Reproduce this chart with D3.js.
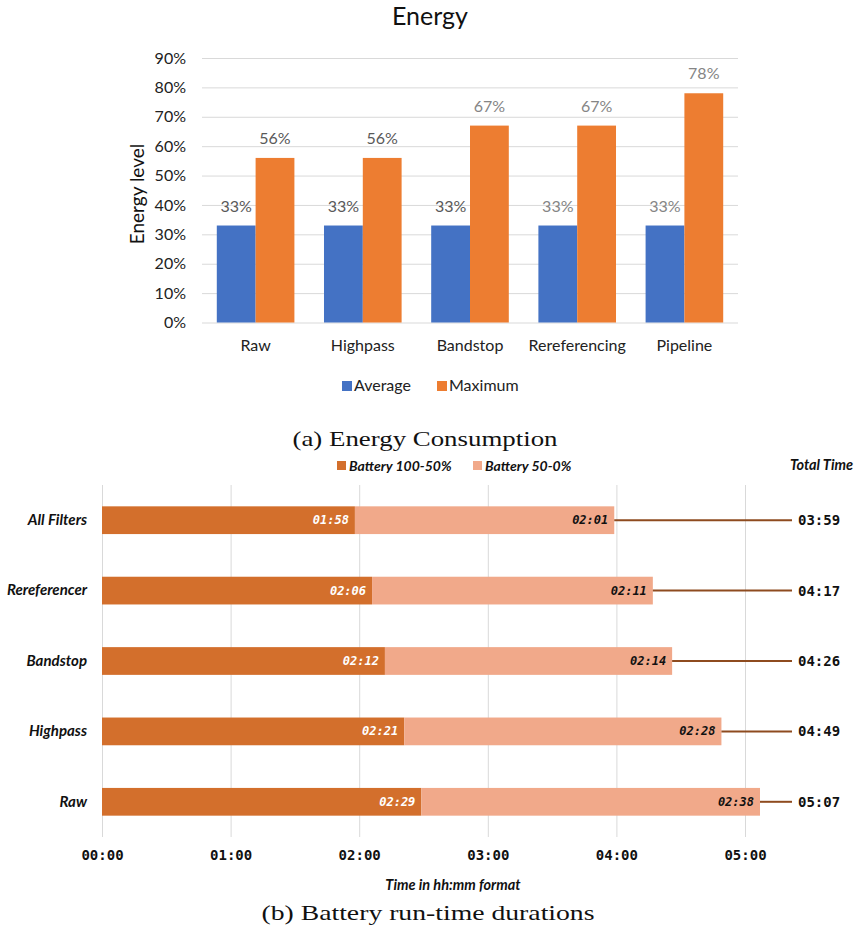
<!DOCTYPE html>
<html>
<head>
<meta charset="utf-8">
<script src="https://cdn.jsdelivr.net/npm/d3@7"></script>
<style>
  html, body { margin: 0; padding: 0; background: #fff; }
  svg { display: block; }
</style>
</head>
<body>
<svg id="chart" width="856" height="933"></svg>
<script>
// ---- Data: (a) Energy ----
const energyCategories = ["Raw", "Highpass", "Bandstop", "Rereferencing", "Pipeline"];
const energyAverage = [33, 33, 33, 33, 33];
const energyMaximum = [56, 56, 67, 67, 78];
const energySeries = ["Average", "Maximum"];
const energyTicks = [0, 10, 20, 30, 40, 50, 60, 70, 80, 90];

// ---- Data: (b) Battery ----
const batteryCategories = ["All Filters", "Rereferencer", "Bandstop", "Highpass", "Raw"];
const batteryFirstHalf = ["01:58", "02:06", "02:12", "02:21", "02:29"];
const batterySecondHalf = ["02:01", "02:11", "02:14", "02:28", "02:38"];
const batterySeries = ["Battery 100-50%", "Battery 50-0%"];
const batteryTicks = ["00:00", "01:00", "02:00", "03:00", "04:00", "05:00"];

const toMin = s => { const [h, m] = s.split(":").map(Number); return h * 60 + m; };
const fmt = m => String(Math.floor(m / 60)).padStart(2, "0") + ":" + String(m % 60).padStart(2, "0");

const svg = d3.select("#chart");
const sans = "Lato, 'Open Sans', sans-serif";
const mono = "'DejaVu Sans Mono', 'Liberation Mono', monospace";
const serif = "'Liberation Serif', 'DejaVu Serif', serif";

// ================= (a) Energy chart =================
const cBlue = "#4472C4", cOrange = "#ED7D31";
const x0 = d3.scaleBand().domain(energyCategories).range([202, 738]).paddingInner(0.276).paddingOuter(0.138);
const x1 = d3.scaleBand().domain(energySeries).range([0, x0.bandwidth()]);
const y = d3.scaleLinear().domain([0, 90]).range([322.5, 58]);

const gA = svg.append("g");
// title
gA.append("text").attr("x", 430).attr("y", 25).attr("text-anchor", "middle")
  .style("font-family", sans).style("font-size", "25px").style("fill", "#111").text("Energy");

// gridlines
gA.append("g").selectAll("line").data(energyTicks).join("line")
  .attr("x1", 202).attr("x2", 738)
  .attr("y1", d => y(d) + 0.5).attr("y2", d => y(d) + 0.5)
  .attr("stroke", "#d9d9d9").attr("stroke-width", 1);

// y axis labels
const yAxis = d3.axisLeft(y).tickValues(energyTicks).tickFormat(d => d + "%").tickSize(0).tickPadding(0);
const yg = gA.append("g").attr("transform", "translate(186,0)").call(yAxis);
yg.select(".domain").remove();
yg.selectAll("text").style("font-family", sans).style("font-size", "16px").style("fill", "#222");

// y title
gA.append("text").attr("transform", "translate(144,194) rotate(-90)").attr("text-anchor", "middle")
  .style("font-family", sans).style("font-size", "19px").style("fill", "#111").text("Energy level");

// bars
const energyRows = energyCategories.map((c, i) => ({ c, vals: [energyAverage[i], energyMaximum[i]], i }));
const groups = gA.append("g").selectAll("g").data(energyRows).join("g")
  .attr("transform", d => `translate(${x0(d.c)},0)`);
groups.selectAll("rect").data(d => d.vals.map((v, k) => ({ v, s: energySeries[k] })))
  .join("rect")
  .attr("x", d => x1(d.s)).attr("width", x1.bandwidth())
  .attr("y", d => y(d.v)).attr("height", d => y(0) - y(d.v))
  .attr("fill", d => d.s === "Average" ? cBlue : cOrange);
groups.selectAll("text").data(d => d.vals.map((v, k) => ({ v, s: energySeries[k], i: d.i })))
  .join("text")
  .attr("x", d => x1(d.s) + x1.bandwidth() / 2).attr("y", d => y(d.v) - 14)
  .attr("text-anchor", "middle")
  .style("font-family", sans).style("font-size", "16px")
  .style("fill", d => (d.s === "Average" ? d.i >= 3 : d.v > 60) ? "#858585" : "#595959")
  .text(d => d.v + "%");

// x labels
const xAxis = d3.axisBottom(x0).tickSize(0).tickPadding(0);
const xg = gA.append("g").attr("transform", "translate(0,340)").call(xAxis);
xg.select(".domain").remove();
xg.selectAll("text").style("font-family", sans).style("font-size", "16px").style("fill", "#222");

// legend
const legA = gA.append("g").attr("transform", "translate(342,0)");
const legAItems = [{ s: energySeries[0], c: cBlue, x: 0 }, { s: energySeries[1], c: cOrange, x: 95 }];
legA.selectAll("rect").data(legAItems).join("rect")
  .attr("x", d => d.x).attr("y", 381).attr("width", 10).attr("height", 10).attr("fill", d => d.c);
legA.selectAll("text").data(legAItems).join("text")
  .attr("x", d => d.x + 12).attr("y", 391)
  .style("font-family", sans).style("font-size", "16px").style("fill", "#222").text(d => d.s);

// caption
svg.append("text").attr("x", 425).attr("y", 446).attr("text-anchor", "middle")
  .attr("textLength", 265).attr("lengthAdjust", "spacingAndGlyphs")
  .style("font-family", serif).style("font-size", "21px").style("fill", "#111")
  .text("(a) Energy Consumption");

// ================= (b) Battery chart =================
const cDark = "#D36F2C", cLight = "#F1A98A", cLine = "#8E4B1F";
const bx = d3.scaleLinear().domain([0, 300]).range([102, 745]);
const by = d3.scaleBand().domain(batteryCategories).range([485, 837]).paddingInner(0.606).paddingOuter(0.303);
const gB = svg.append("g");

// vertical gridlines
const tickMins = batteryTicks.map(toMin);
gB.append("g").selectAll("line").data(tickMins).join("line")
  .attr("x1", d => bx(d) + 0.5).attr("x2", d => bx(d) + 0.5)
  .attr("y1", 485).attr("y2", 837)
  .attr("stroke", "#d9d9d9").attr("stroke-width", 1);

// x axis labels
const bAxis = d3.axisBottom(bx).tickValues(tickMins).tickFormat(fmt).tickSize(0).tickPadding(0);
const bxg = gB.append("g").attr("transform", "translate(0,850)").call(bAxis);
bxg.select(".domain").remove();
bxg.selectAll("text").style("font-family", mono).style("font-weight", "bold").style("font-size", "14px").style("fill", "#111");

// x title
gB.append("text").attr("x", 453).attr("y", 890).attr("text-anchor", "middle")
  .style("font-family", sans).style("font-weight", "bold").style("font-style", "italic")
  .style("font-size", "14.5px").style("fill", "#111").text("Time in hh:mm format");

// category labels
const byAxis = d3.axisLeft(by).tickSize(0).tickPadding(0);
const byg = gB.append("g").attr("transform", "translate(87,0)").call(byAxis);
byg.select(".domain").remove();
byg.selectAll("text").style("font-family", sans).style("font-weight", "bold").style("font-style", "italic")
  .style("font-size", "15px").style("fill", "#111");

// bars
const batteryRows = batteryCategories.map((c, i) => {
  const a = toMin(batteryFirstHalf[i]), b = toMin(batterySecondHalf[i]);
  return { c, a, b, total: a + b };
});
const rowsG = gB.append("g").selectAll("g").data(batteryRows).join("g");
rowsG.append("rect")
  .attr("x", bx(0)).attr("y", d => by(d.c))
  .attr("width", d => bx(d.a) - bx(0)).attr("height", by.bandwidth()).attr("fill", cDark);
rowsG.append("rect")
  .attr("x", d => bx(d.a)).attr("y", d => by(d.c))
  .attr("width", d => bx(d.a + d.b) - bx(d.a)).attr("height", by.bandwidth()).attr("fill", cLight);
// connector lines
rowsG.append("line")
  .attr("x1", d => bx(d.total)).attr("x2", 792)
  .attr("y1", d => by(d.c) + by.bandwidth() / 2).attr("y2", d => by(d.c) + by.bandwidth() / 2)
  .attr("stroke", cLine).attr("stroke-width", 2);
// inside labels
rowsG.append("text")
  .attr("x", d => bx(d.a) - 6).attr("y", d => by(d.c) + by.bandwidth() / 2 + 4)
  .attr("text-anchor", "end")
  .style("font-family", mono).style("font-weight", "bold").style("font-style", "italic")
  .style("font-size", "12px").style("fill", "#fff").text(d => fmt(d.a));
rowsG.append("text")
  .attr("x", d => bx(d.total) - 6).attr("y", d => by(d.c) + by.bandwidth() / 2 + 4)
  .attr("text-anchor", "end")
  .style("font-family", mono).style("font-weight", "bold").style("font-style", "italic")
  .style("font-size", "12px").style("fill", "#111").text(d => fmt(d.b));
// totals
rowsG.append("text")
  .attr("x", 798).attr("y", d => by(d.c) + by.bandwidth() / 2 + 5)
  .style("font-family", mono).style("font-weight", "bold")
  .style("font-size", "14px").style("fill", "#111").text(d => fmt(d.total));

// legend
const legBItems = [{ s: batterySeries[0], c: cDark, x: 337 }, { s: batterySeries[1], c: cLight, x: 473 }];
gB.append("g").selectAll("rect").data(legBItems).join("rect")
  .attr("x", d => d.x).attr("y", 461).attr("width", 9).attr("height", 9).attr("fill", d => d.c);
gB.append("g").selectAll("text").data(legBItems).join("text")
  .attr("x", d => d.x + 12).attr("y", 470.5)
  .style("font-family", sans).style("font-weight", "bold").style("font-style", "italic")
  .style("font-size", "14px").style("fill", "#111").text(d => d.s);
gB.append("text").attr("x", 853).attr("y", 469.5).attr("text-anchor", "end")
  .style("font-family", sans).style("font-weight", "bold").style("font-style", "italic")
  .style("font-size", "14.5px").style("fill", "#111").text("Total Time");

// caption
svg.append("text").attr("x", 428).attr("y", 920).attr("text-anchor", "middle")
  .attr("textLength", 333).attr("lengthAdjust", "spacingAndGlyphs")
  .style("font-family", serif).style("font-size", "22px").style("fill", "#111")
  .text("(b) Battery run-time durations");
</script>
</body>
</html>
